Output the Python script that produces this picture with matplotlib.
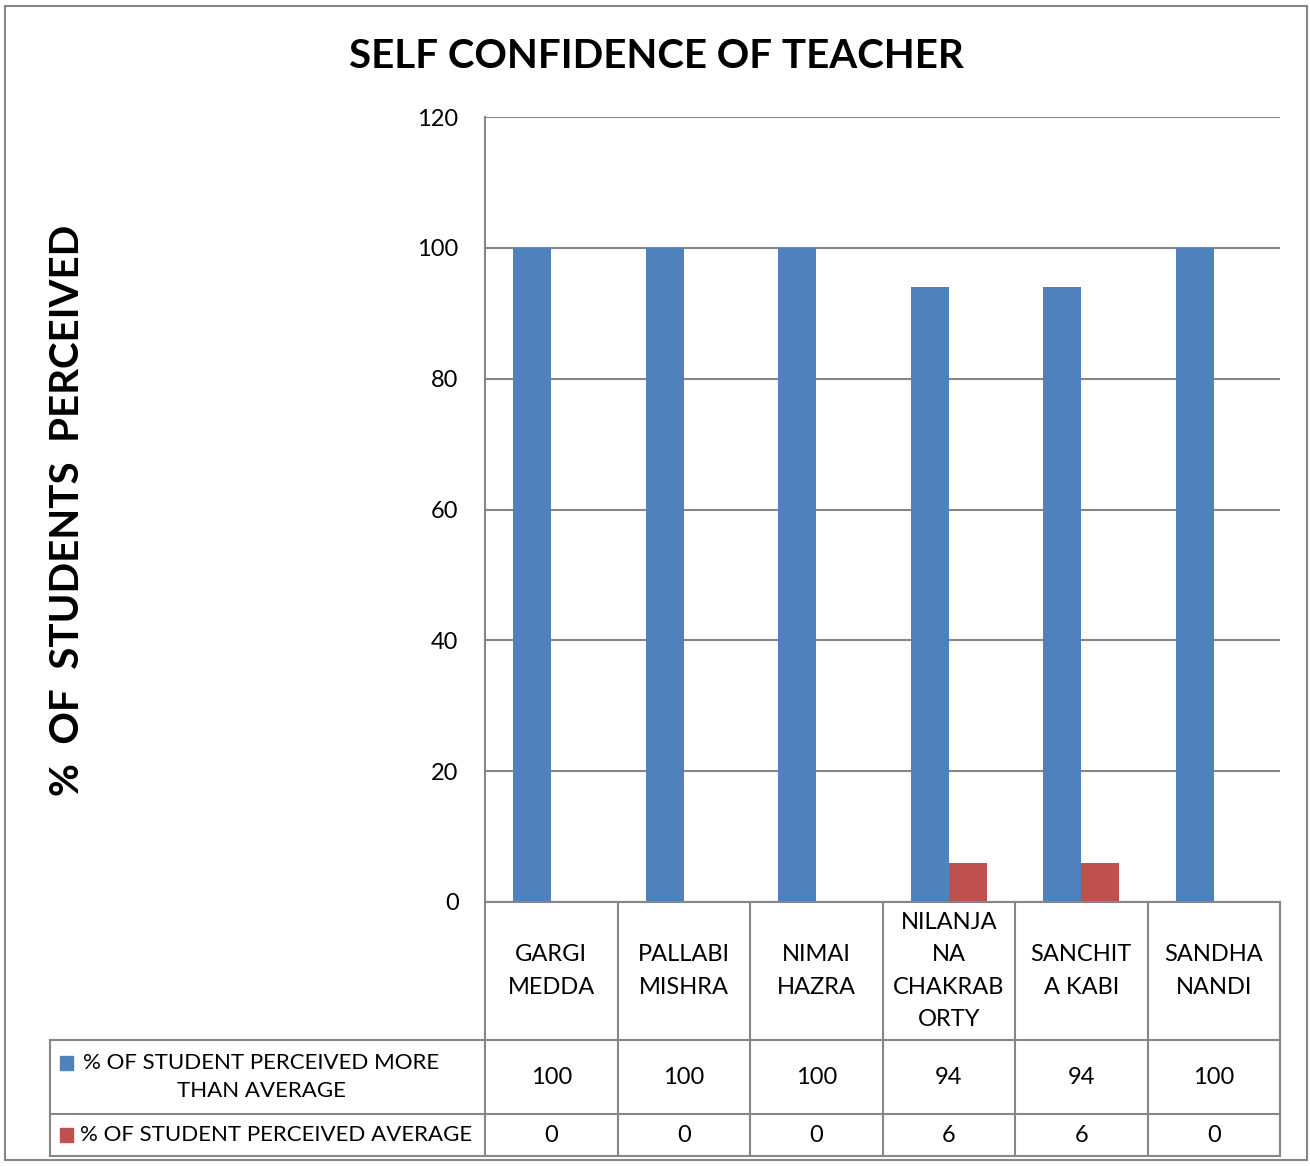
import matplotlib.pyplot as plt
from matplotlib.patches import Rectangle

plt.rcParams["font.family"] = ["Lato", "DejaVu Sans"]

teachers = ["GARGI\nMEDDA", "PALLABI\nMISHRA", "NIMAI\nHAZRA",
            "NILANJA\nNA\nCHAKRAB\nORTY", "SANCHIT\nA KABI", "SANDHA\nNANDI"]
more_than_avg = [100, 100, 100, 94, 94, 100]
average = [0, 0, 0, 6, 6, 0]
series_names = ["% OF STUDENT PERCEIVED MORE\nTHAN AVERAGE",
                "% OF STUDENT PERCEIVED AVERAGE"]
yticks = [0, 20, 40, 60, 80, 100, 120]

BLUE = "#4F81BD"
RED = "#C0504D"
GRID = "#868686"

W, H = 1310, 1166
fig = plt.figure(figsize=(W / 100, H / 100), dpi=100)

# outer chart border
fig.patches.append(Rectangle((5 / W, 6 / H), 1302 / W, 1154 / H,
                             transform=fig.transFigure, fill=False,
                             edgecolor=GRID, lw=1.5))

# plot area
px0, px1, py0, py1 = 485, 1280, 902, 117
ax = fig.add_axes([px0 / W, 1 - py0 / H, (px1 - px0) / W, (py0 - py1) / H])
n = len(teachers)
xs = [i + 0.5 for i in range(n)]
bw = 0.287
ax.bar([x - bw / 2 for x in xs], more_than_avg, width=bw, color=BLUE, zorder=3)
ax.bar([x + bw / 2 for x in xs], average, width=bw, color=RED, zorder=3)
ax.set_xlim(0, n)
ax.set_ylim(0, 120)
ax.set_yticks(yticks)
ax.set_xticks([])
ax.tick_params(axis="y", length=0, pad=19, labelsize=17)
ax.yaxis.grid(True, color=GRID, lw=1.5)
ax.set_axisbelow(True)
for s in ["top", "right", "bottom"]:
    ax.spines[s].set_visible(False)
ax.spines["left"].set_color(GRID)
ax.spines["left"].set_linewidth(1.5)

fig.text(656 / W, 1 - 57 / H, "SELF CONFIDENCE OF TEACHER",
         ha="center", va="center", fontsize=29, fontweight="bold")
fig.text(68 / W, 1 - 510 / H, "%  OF  STUDENTS  PERCEIVED", rotation=90,
         ha="center", va="center", fontsize=29, fontweight="bold")

# data table below the plot
tx0, ty0, ty1 = 50, 902, 1156
col_w = (px1 - px0) / n
tax = fig.add_axes([tx0 / W, 1 - ty1 / H, (px1 - tx0) / W, (ty1 - ty0) / H])
left = -(px0 - tx0) / col_w
tax.set_xlim(left, n)
rows = [0, 138, 212, 254]
tax.set_ylim(rows[-1], rows[0])
tax.axis("off")
lkw = dict(color=GRID, lw=1.5, clip_on=False)
for i in range(n + 1):
    tax.plot([i, i], [rows[0], rows[-1]], **lkw)
tax.plot([0, n], [rows[0], rows[0]], **lkw)
for r in rows[1:]:
    tax.plot([left, n], [r, r], **lkw)
tax.plot([left, left], [rows[1], rows[-1]], **lkw)

for x, name in zip(xs, teachers):
    tax.text(x, (rows[0] + rows[1]) / 2, name, ha="center", va="center",
             fontsize=17, linespacing=1.65)
for r, vals, color in [(0, more_than_avg, BLUE), (1, average, RED)]:
    yc = (rows[r + 1] + rows[r + 2]) / 2
    for x, v in zip(xs, vals):
        tax.text(x, yc, str(v), ha="center", va="center", fontsize=17)
    ky = yc - 14 if r == 0 else yc
    tax.add_patch(Rectangle((left + 10 / col_w, ky - 7), 13 / col_w, 14,
                            color=color, clip_on=False))
tax.text(left + 211 / col_w, (rows[1] + rows[2]) / 2, series_names[0],
         ha="center", va="center", fontsize=16, linespacing=1.5)
tax.text(left + 30 / col_w, (rows[2] + rows[3]) / 2, series_names[1],
         ha="left", va="center", fontsize=16)

fig.savefig("out.png", dpi=100)
